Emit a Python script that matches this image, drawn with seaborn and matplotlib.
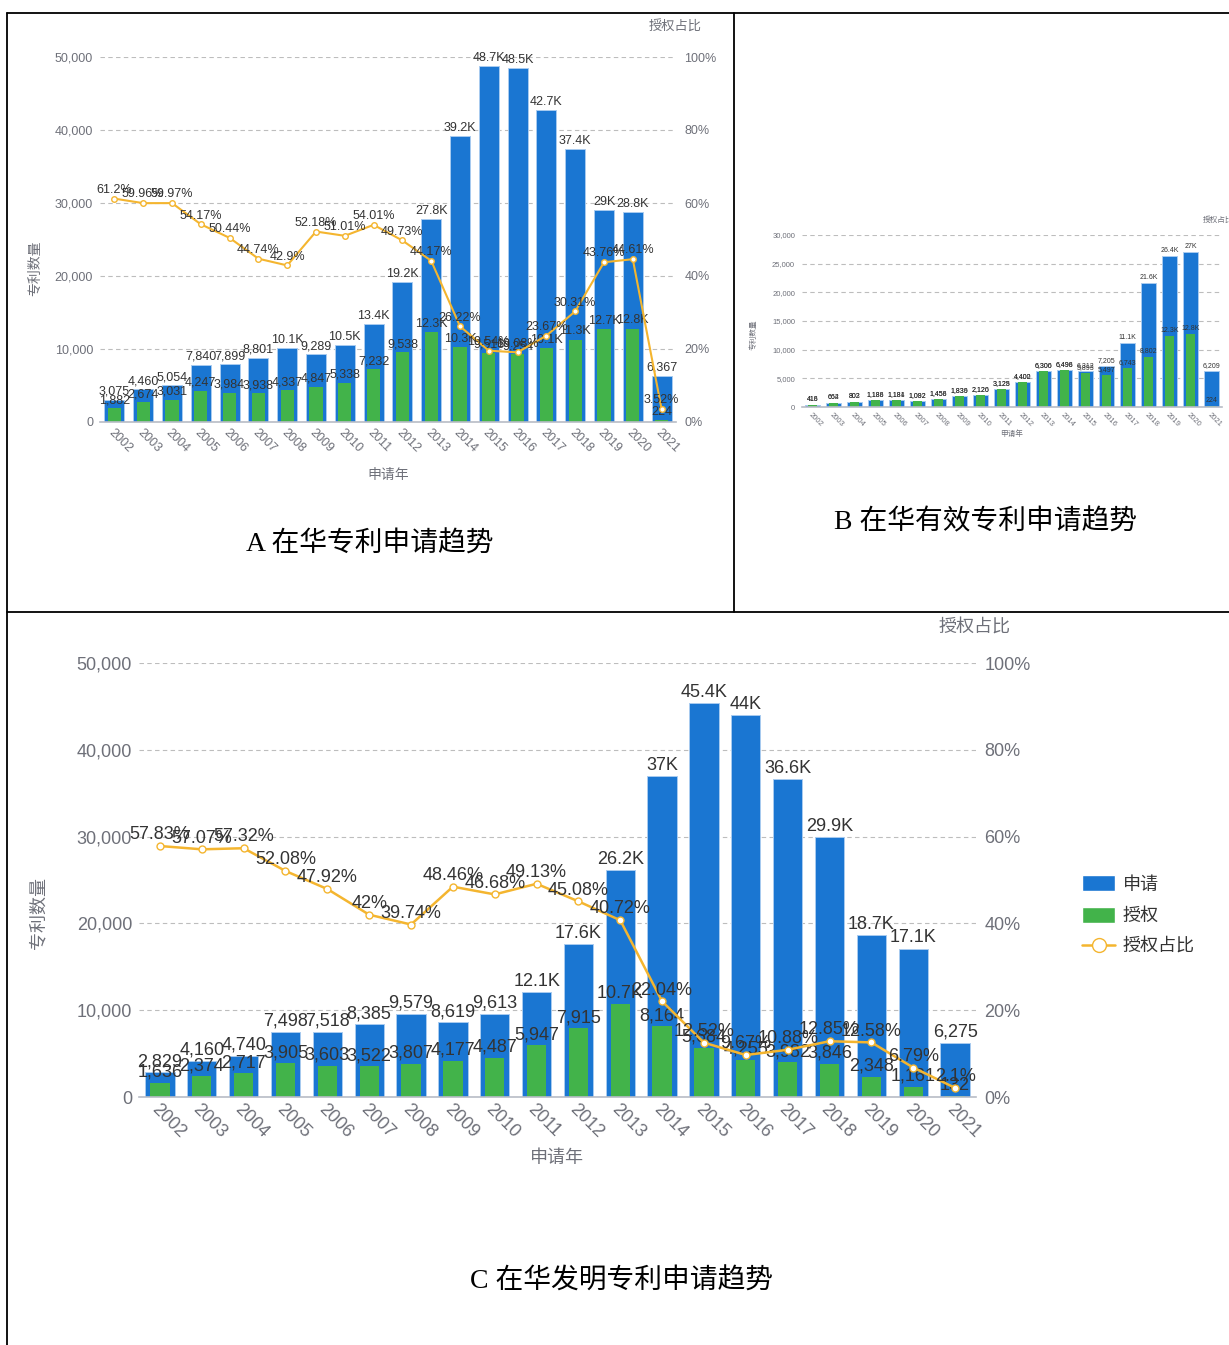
import numpy as np
import matplotlib.pyplot as plt
import seaborn as sns
from matplotlib.lines import Line2D
from matplotlib.patches import Patch
from matplotlib.ticker import FuncFormatter, MultipleLocator

# data
years = [str(y) for y in range(2002, 2022)]

# A 在华专利申请趋势
a_apply = [3075, 4460, 5054, 7840, 7899, 8801, 10100, 9289, 10500, 13400,
           19200, 27800, 39200, 48700, 48500, 42700, 37400, 29000, 28800, 6367]
a_grant = [1882, 2674, 3031, 4247, 3984, 3938, 4337, 4847, 5338, 7232,
           9538, 12300, 10300, 9516, 9254, 10100, 11300, 12700, 12800, 224]
a_ratio = [61.2, 59.96, 59.97, 54.17, 50.44, 44.74, 42.9, 52.18, 51.01, 54.01,
           49.73, 44.17, 26.22, 19.54, 19.08, 23.67, 30.31, 43.76, 44.61, 3.52]

# B 在华有效专利申请趋势
b_apply = [418, 664, 803, 1188, 1184, 1092, 1458, 1839, 2126, 3128,
           4402, 6306, 6498, 6312, 7205, 11100, 21600, 26400, 27000, 6209]
b_grant = [416, 662, 802, 1186, 1181, 1082, 1456, 1836, 2120, 3125,
           4400, 6300, 6496, 5893, 5497, 6743, 8802, 12300, 12800, 224]

# C 在华发明专利申请趋势
c_apply = [2829, 4160, 4740, 7498, 7518, 8385, 9579, 8619, 9613, 12100,
           17600, 26200, 37000, 45400, 44000, 36600, 29900, 18700, 17100, 6275]
c_grant = [1636, 2374, 2717, 3905, 3603, 3522, 3807, 4177, 4487, 5947,
           7915, 10700, 8164, 5684, 4255, 3982, 3846, 2348, 1161, 132]
c_ratio = [57.83, 57.07, 57.32, 52.08, 47.92, 42, 39.74, 48.46, 46.68, 49.13,
           45.08, 40.72, 22.04, 12.52, 9.67, 10.88, 12.85, 12.58, 6.79, 2.1]

BLUE = '#1a76d2'
GREEN = '#42b34a'
GOLD = '#f4b52f'
GRAY = '#6e7079'
TXT = '#333333'

sns.set_style('white')
plt.rcParams['font.family'] = ['Liberation Sans', 'Noto Sans CJK SC', 'DejaVu Sans']
CAP_FONT = ['Liberation Serif', 'Noto Sans CJK SC']

W, H = 1229, 1345
fig = plt.figure(figsize=(W / 100, H / 100), dpi=100)


def box(left, right, top, bottom):
    # pixel box -> figure coords
    return [left / W, 1 - bottom / H, (right - left) / W, (bottom - top) / H]


def fmt_num(v):
    if v >= 10000:
        return f"{v / 1000:.1f}".rstrip('0').rstrip('.') + 'K'
    return f"{v:,}"


def draw_panel(ax, apply, grant, ymax, ystep, fs_tick, fs_lab, fs_name):
    sns.barplot(x=years, y=apply, color=BLUE, width=0.7, saturation=1,
                edgecolor='#a8cbf0', linewidth=0.7, ax=ax)
    sns.barplot(x=years, y=grant, color=GREEN, width=0.46, saturation=1,
                linewidth=0, ax=ax)
    for i, (a, g) in enumerate(zip(apply, grant)):
        ax.annotate(fmt_num(a), (i, a), xytext=(0, 1.5), textcoords='offset points',
                    ha='center', va='bottom', fontsize=fs_lab, color=TXT)
        ax.annotate(fmt_num(g), (i, g), xytext=(0, 1.5), textcoords='offset points',
                    ha='center', va='bottom', fontsize=fs_lab, color=TXT)
    ax.set_xlim(-0.5, len(years) - 0.5)
    ax.set_ylim(0, ymax)
    ax.yaxis.set_major_locator(MultipleLocator(ystep))
    ax.yaxis.set_major_formatter(FuncFormatter(lambda v, p: f"{int(v):,}"))
    ax.yaxis.grid(True, linestyle=(0, (4, 3)), color='#bdbdbd', lw=0.8)
    ax.set_axisbelow(True)
    for s in ['top', 'right', 'left']:
        ax.spines[s].set_visible(False)
    ax.spines['bottom'].set_color('#b8bcc6')
    ax.spines['bottom'].set_linewidth(1.2)
    ax.tick_params(axis='y', length=0, labelsize=fs_tick, labelcolor=GRAY, pad=5)
    ax.tick_params(axis='x', length=0, pad=3)
    ax.set_xticks(range(len(years)))
    ax.set_xticklabels(years, rotation=-45, ha='left', va='top', rotation_mode='anchor',
                       fontsize=fs_tick, color=GRAY)
    ax.set_ylabel('专利数量', fontsize=fs_name, color=GRAY)
    ax.set_xlabel('申请年', fontsize=fs_name, color=GRAY)


def draw_ratio(ax, ratio, fs_tick, fs_lab, ms, lw):
    ax2 = ax.twinx()
    sns.lineplot(x=np.arange(len(years)), y=ratio, color=GOLD, lw=lw, marker='o',
                 markersize=ms, markerfacecolor='white', markeredgecolor=GOLD,
                 markeredgewidth=1, ax=ax2)
    for i, r in enumerate(ratio):
        ax2.annotate(f"{r:g}%", (i, r), xytext=(0, 2), textcoords='offset points',
                     ha='center', va='bottom', fontsize=fs_lab, color=TXT)
    ax2.set_ylim(0, 100)
    ax2.yaxis.set_major_locator(MultipleLocator(20))
    ax2.yaxis.set_major_formatter(FuncFormatter(lambda v, p: f"{int(v)}%"))
    ax2.tick_params(axis='y', length=0, labelsize=fs_tick, labelcolor=GRAY, pad=6)
    for s in ax2.spines.values():
        s.set_visible(False)
    ax2.set_ylabel('')
    return ax2


# Panel A
axA = fig.add_axes(box(100, 676, 57, 422))
draw_panel(axA, a_apply, a_grant, 50000, 10000, 9, 9, 10)
draw_ratio(axA, a_ratio, 9, 9, 4, 1.5)
axA.yaxis.set_label_coords(-0.1, 0.42)
axA.xaxis.set_label_coords(0.5, -0.126)
fig.text(675 / W, 1 - 27 / H, '授权占比', ha='center', va='center', fontsize=9.5, color=GRAY)
fig.text(370 / W, 1 - 545 / H, 'A 在华专利申请趋势', ha='center', va='center',
         fontsize=20, family=CAP_FONT, color='black')

# Panel B
axB = fig.add_axes(box(802, 1222, 235, 407))
draw_panel(axB, b_apply, b_grant, 30000, 5000, 5.5, 5, 5.5)
axB.yaxis.set_label_coords(-0.107, 0.42)
axB.xaxis.set_label_coords(0.5, -0.134)
fig.text(1203 / W, 1 - 220 / H, '授权占比', ha='left', va='center', fontsize=5.5, color=GRAY)
fig.text(985 / W, 1 - 522 / H, 'B 在华有效专利申请趋势', ha='center', va='center',
         fontsize=20, family=CAP_FONT, color='black')

# Panel C
axC = fig.add_axes(box(139, 976, 663, 1097))
draw_panel(axC, c_apply, c_grant, 50000, 10000, 13, 13, 13)
draw_ratio(axC, c_ratio, 13, 13, 5, 1.8)
axC.yaxis.set_label_coords(-0.11, 0.424)
axC.xaxis.set_label_coords(0.4994, -0.122)
fig.text(975 / W, 1 - 628 / H, '授权占比', ha='center', va='center', fontsize=13, color=GRAY)
fig.text(622 / W, 1 - 1282 / H, 'C 在华发明专利申请趋势', ha='center', va='center',
         fontsize=20, family=CAP_FONT, color='black')

handles = [Patch(facecolor=BLUE), Patch(facecolor=GREEN),
           Line2D([0], [0], color=GOLD, lw=1.8, marker='o', markersize=10,
                  markerfacecolor='white', markeredgecolor=GOLD)]
leg = fig.legend(handles, ['申请', '授权', '授权占比'], loc='upper left',
                 bbox_to_anchor=(1066 / W, 1 - 859 / H), frameon=False, fontsize=13,
                 handlelength=1.8, handleheight=1.0, labelspacing=0.72, handletextpad=0.45)
for t in leg.get_texts():
    t.set_color(TXT)

# table borders
for xs, ys in [([7, W], [13, 13]), ([7, 7], [13, H]), ([734, 734], [13, 612]),
               ([7, W], [612, 612])]:
    fig.add_artist(Line2D([x / W for x in xs], [1 - y / H for y in ys],
                          transform=fig.transFigure, color='black', lw=1.3))

fig.savefig('out.png', dpi=100)
